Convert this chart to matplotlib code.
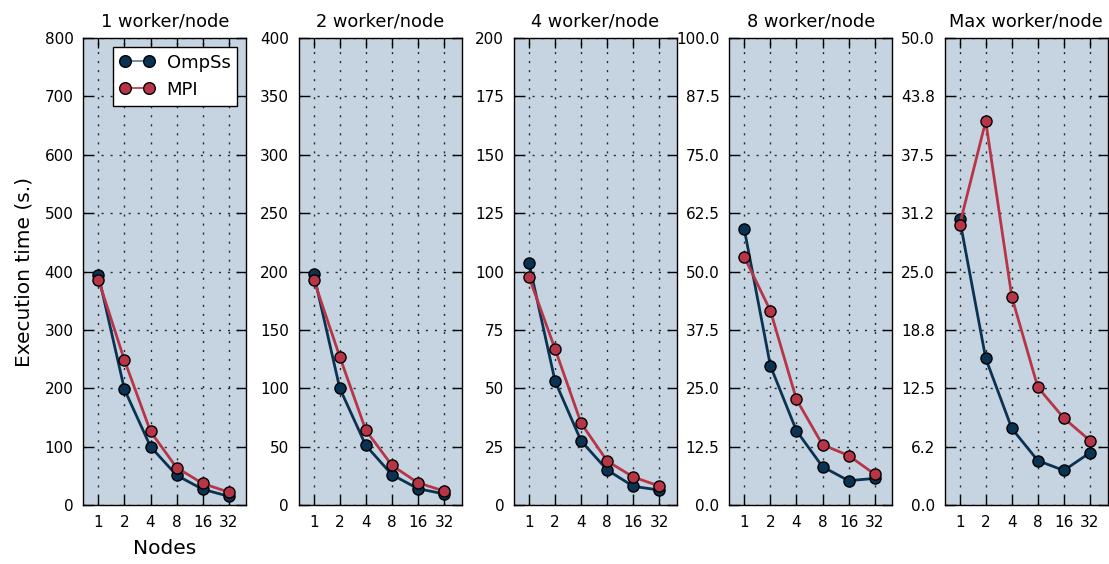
import matplotlib
matplotlib.use("Agg")
import matplotlib.pyplot as plt
import numpy as np

nodes = ["1", "2", "4", "8", "16", "32"]
titles = ["1 worker/node", "2 worker/node", "4 worker/node", "8 worker/node", "Max worker/node"]
ymax = [800, 400, 200, 100, 50]

ompss = [
    [394, 198, 100, 51, 27, 15],
    [198, 100, 51, 26, 14, 9.5],
    [103.6, 53, 27.4, 15, 8, 6.4],
    [59.0, 29.8, 15.9, 8.2, 5.2, 5.7],
    [30.6, 15.7, 8.2, 4.75, 3.7, 5.6],
]
mpi = [
    [386, 248, 126, 64, 37, 22],
    [193, 127, 64, 34, 19, 12],
    [97.6, 66.8, 35, 18.8, 12, 8.1],
    [53.1, 41.6, 22.6, 12.9, 10.6, 6.6],
    [30.0, 41.1, 22.3, 12.6, 9.3, 6.9],
]

c_ompss = "#0a3253"
c_mpi = "#b83548"
bg = "#c5d4e0"

plt.rcParams['font.family'] = ['DejaVu Sans']
fig, axes = plt.subplots(1, 5, figsize=(11.09, 5.64), dpi=100)
fig.subplots_adjust(left=0.0751, right=0.9988, top=0.9326, bottom=0.1046, wspace=0.32)

x = np.arange(len(nodes))
for i, ax in enumerate(axes):
    ax.set_facecolor(bg)
    ax.plot(x, ompss[i], '-o', color=c_ompss, lw=2, ms=8, mfc=c_ompss, mec='black', mew=1, label="OmpSs", zorder=3)
    ax.plot(x, mpi[i], '-o', color=c_mpi, lw=2, ms=8, mfc=c_mpi, mec='black', mew=1, label="MPI", zorder=4)
    ax.set_xlim(-0.58, 5.68)
    ax.set_ylim(0, ymax[i])
    ax.set_xticks(x)
    ax.set_xticklabels(nodes)
    yt = np.linspace(0, ymax[i], 9)
    ax.set_yticks(yt)
    if ymax[i] >= 200:
        ax.set_yticklabels([f"{v:.0f}" for v in yt])
    else:
        ax.set_yticklabels([f"{v:.1f}" for v in yt])
    ax.tick_params(direction='in', top=True, right=True, length=7, width=1, labelsize=11, pad=7)
    ax.grid(True, linestyle=(0, (1.5, 5)), color='black', linewidth=1, alpha=0.8)
    ax.set_axisbelow(True)
    ax.set_title(titles[i], fontsize=12.8, pad=8)
    for s in ax.spines.values():
        s.set_color('black')
        s.set_linewidth(1)

axes[0].set_ylabel("Execution time (s.)", fontsize=14.5, labelpad=8)
axes[0].set_xlabel("Nodes", fontsize=14.5, labelpad=7)
leg = axes[0].legend(loc='upper right', numpoints=2, fontsize=13, fancybox=False,
                     framealpha=1, edgecolor='black', handlelength=1.9, borderpad=0.38,
                     handletextpad=0.7, labelspacing=0.5, markerscale=1.05,
                     borderaxespad=0, bbox_to_anchor=(0.945, 0.981))
leg.get_frame().set_linewidth(1)
for h, col in zip(leg.get_lines(), ["#5a7a96", c_mpi]):
    h.set_linewidth(1.2)
    h.set_color(col)
    h.set_markerfacecolor(c_ompss if col != c_mpi else c_mpi)

fig.savefig("out.png", dpi=100)
